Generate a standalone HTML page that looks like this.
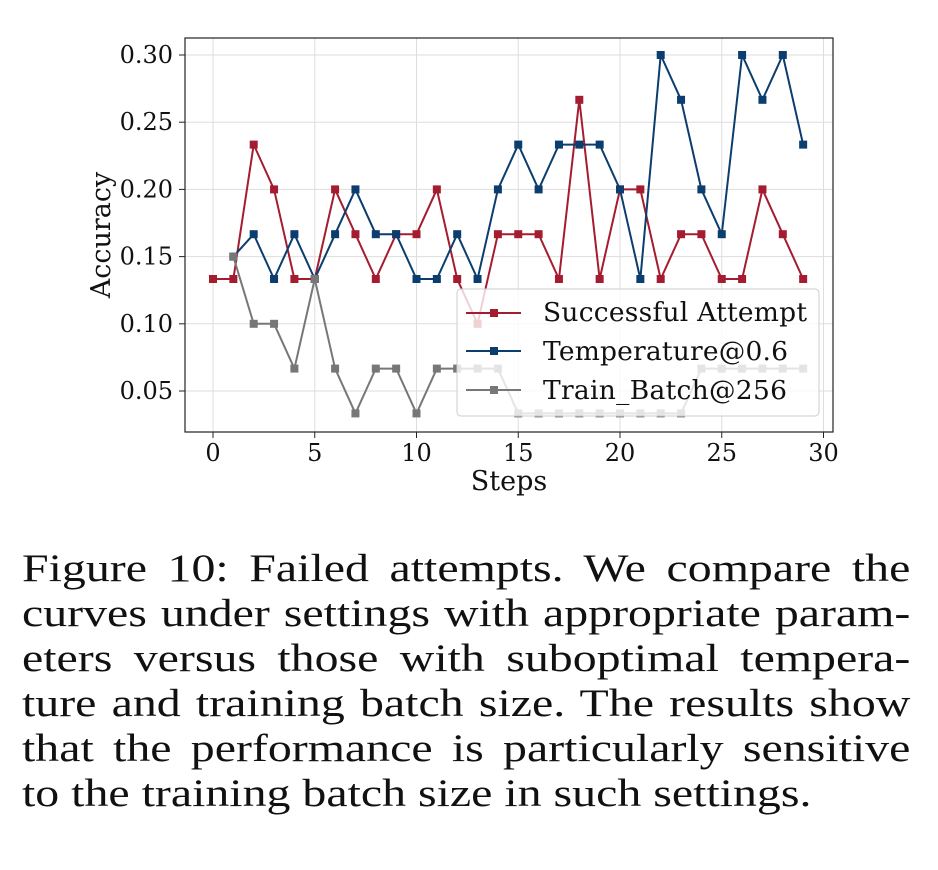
<!DOCTYPE html>
<html><head><meta charset="utf-8"><style>
body{margin:0;background:#fff;width:938px;height:870px;overflow:hidden;position:relative}
.cap{position:absolute;left:22px;top:546px;width:724px;font-family:"Liberation Serif",serif;font-size:39px;line-height:45px;color:#111;transform:scaleX(1.227);transform-origin:0 0}
.cap span{display:block;text-align:justify;text-align-last:justify;white-space:nowrap}
.cap span.l{text-align-last:left}
</style></head><body>
<svg id="s" width="938" height="540" style="position:absolute;left:0;top:0" font-family="DejaVu Serif, Liberation Serif, serif">
<g id="grid" stroke="#ddd" stroke-width="1"></g>
<g id="lines"></g>
<rect x="457" y="289" width="362" height="127" rx="4" fill="#fff" fill-opacity="0.8" stroke="#ccc"/>
<g font-size="26.5" fill="#111">
<line x1="466" y1="313" x2="521" y2="313" stroke="#a51c30" stroke-width="2"/><rect x="490" y="309" width="8" height="8" fill="#a51c30"/>
<text x="543" y="321" textLength="264">Successful Attempt</text>
<line x1="466" y1="351" x2="521" y2="351" stroke="#0b3d6e" stroke-width="2"/><rect x="490" y="347" width="8" height="8" fill="#0b3d6e"/>
<text x="543" y="360" textLength="245">Temperature@0.6</text>
<line x1="466" y1="390" x2="521" y2="390" stroke="#777" stroke-width="2"/><rect x="490" y="386" width="8" height="8" fill="#777"/>
<text x="543" y="399" textLength="244">Train_Batch@256</text>
</g>
<rect x="185" y="38" width="648" height="394" fill="none" stroke="#222" stroke-width="1.2"/>
<g id="ticks" font-size="24" fill="#111"></g>
<text x="509" y="490" font-size="27" text-anchor="middle" fill="#111">Steps</text>
<text transform="translate(110,235) rotate(-90)" font-size="27" text-anchor="middle" fill="#111">Accuracy</text>
</svg>
<div class="cap"><span>Figure 10: Failed attempts. We compare the</span><span>curves under settings with appropriate param-</span><span>eters versus those with suboptimal tempera-</span><span>ture and training batch size. The results show</span><span>that the performance is particularly sensitive</span><span class="l">to the training batch size in such settings.</span></div>
<script>
const X=i=>213+20.35*i, Y=v=>391-(v-0.05)*1344;
const ns="http://www.w3.org/2000/svg";
function el(p,t,a){const e=document.createElementNS(ns,t);for(const k in a)e.setAttribute(k,a[k]);p.appendChild(e);return e;}
const g=document.getElementById('grid'),tk=document.getElementById('ticks');
for(let i=0;i<=30;i+=5){el(g,'line',{x1:X(i),x2:X(i),y1:38,y2:432});el(tk,'line',{x1:X(i),x2:X(i),y1:432,y2:438,stroke:'#222'});const t=el(tk,'text',{x:X(i),y:461,'text-anchor':'middle'});t.textContent=i;}
[0.05,0.10,0.15,0.20,0.25,0.30].forEach(v=>{el(g,'line',{x1:185,x2:833,y1:Y(v),y2:Y(v)});el(tk,'line',{x1:179,x2:185,y1:Y(v),y2:Y(v),stroke:'#222'});const t=el(tk,'text',{x:173,y:Y(v)+8,'text-anchor':'end'});t.textContent=v.toFixed(2);});
const a=1/30;
const red=[4,4,7,6,4,4,6,5,4,5,5,6,4,3,5,5,5,4,8,4,6,6,4,5,5,4,4,6,5,4].map(v=>v*a);
const blue=[null,4.5,5,4,5,4,5,6,5,5,4,4,5,4,6,7,6,7,7,7,6,4,9,8,6,5,9,8,9,7];
const gray=[null,4.5,3,3,2,4,2,1,2,2,1,2,2,2,2,1,1,1,1,1,1,1,1,1,2,2,2,2,2,2];
const L=document.getElementById('lines');
function series(d,c){let pts=[];d.forEach((v,i)=>{if(v!==null)pts.push([X(i),Y(v)]);});
el(L,'polyline',{points:pts.map(p=>p.join(',')).join(' '),fill:'none',stroke:c,'stroke-width':2});
pts.forEach(p=>el(L,'rect',{x:p[0]-4,y:p[1]-4,width:8,height:8,fill:c}));}
series(red,'#a51c30');
series(blue.map(v=>v===null?null:v*a),'#0b3d6e');
series(gray.map(v=>v===null?null:v*a),'#777');
</script>
</body></html>
